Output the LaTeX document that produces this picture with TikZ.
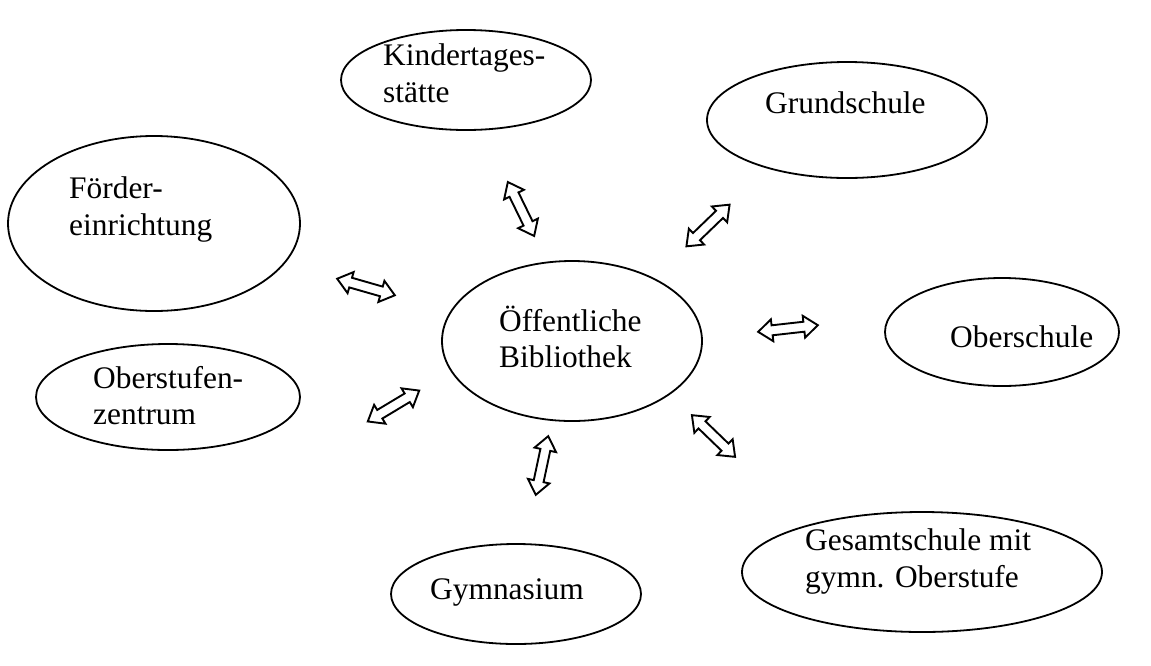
\documentclass[tikz,border=0pt]{standalone}
\usepackage{fontspec}
\setmainfont{Liberation Serif}
\usetikzlibrary{shapes.geometric}
\tikzset{
  oval/.style={ellipse, draw, line width=1.8pt, inner sep=0pt},
  lbl/.style={anchor=base west, inner sep=0pt, align=left,
    font=\fontsize{31.4}{36.5}\selectfont},
  arrline/.style={draw, line width=1.9pt, line join=miter, fill=white},
  darrow/.pic={
    \path[arrline] (-30,0) -- (-16,11) -- (-16,5) -- (16,5) -- (16,11) -- (30,0)
      -- (16,-11) -- (16,-5) -- (-16,-5) -- (-16,-11) -- cycle;
  }
}
\begin{document}
\begin{tikzpicture}[x=1pt,y=-1pt]
\useasboundingbox (0,0) rectangle (1151,665);
% ellipses
\node[oval, minimum width=250pt, minimum height=100pt] (kita) at (466,80) {};
\node[oval, minimum width=280pt, minimum height=116pt] (grund) at (847,120) {};
\node[oval, minimum width=292pt, minimum height=175pt] (foerder) at (154,223.5) {};
\node[oval, minimum width=260pt, minimum height=160pt] (bib) at (572,341) {};
\node[oval, minimum width=234pt, minimum height=108pt] (ober) at (1002,332) {};
\node[oval, minimum width=264pt, minimum height=106pt] (osz) at (168,397) {};
\node[oval, minimum width=250pt, minimum height=100pt] (gymn) at (516,594) {};
\node[oval, minimum width=360pt, minimum height=120pt] (gesamt) at (922,572) {};
% labels
\node[lbl] (tkita) at (383,102) {Kindertages-\\stätte};
\node[lbl] (tgrund) at (765,113) {Grundschule};
\node[lbl] (tfoerder) at (69,235) {Förder-\\einrichtung};
\node[lbl] (tbib) at (499,367.5) {Öffentliche\\Bibliothek};
\node[lbl] (tober) at (950,347) {Oberschule};
\node[lbl] (tosz) at (93,424.5) {Oberstufen-\\zentrum};
\node[lbl] (tgymn) at (430,599) {Gymnasium};
\node[lbl] (tgesamt) at (805,587) {Gesamtschule mit\\gymn. Oberstufe};
% double arrows
\pic[rotate=-64] (a1) at (521,209) {darrow};
\pic[rotate=-16] (a2) at (366,287) {darrow};
\pic[rotate=44]  (a3) at (708,225.5) {darrow};
\pic[rotate=6.4] (a4) at (788,328.5) {darrow};
\pic[rotate=-44] (a5) at (713.5,436) {darrow};
\pic[rotate=31]  (a6) at (393.5,406) {darrow};
\pic[rotate=78]  (a7) at (542,465.5) {darrow};
\end{tikzpicture}
\end{document}
